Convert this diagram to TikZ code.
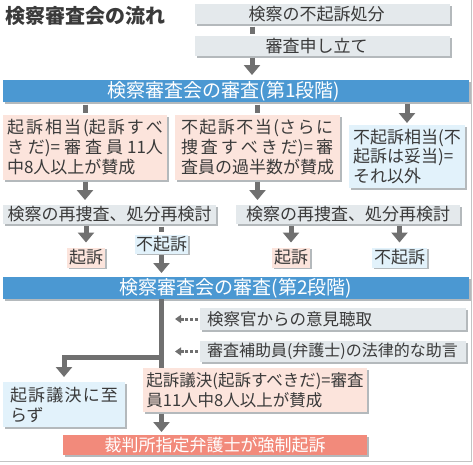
\documentclass[tikz,border=0pt]{standalone}
\usepackage{fontspec}
\setmainfont{Noto Sans CJK JP}
\usetikzlibrary{arrows.meta}
\definecolor{txt}{HTML}{3A3A3A}
\definecolor{boxgray}{HTML}{E4E9EC}
\definecolor{pinkc}{HTML}{FCE4DC}
\definecolor{lblue}{HTML}{E2F2FB}
\definecolor{barblue}{HTML}{4B98D2}
\definecolor{redc}{HTML}{F28A7B}
\definecolor{conncol}{HTML}{707070}
\definecolor{shd}{HTML}{B4B9BC}
\definecolor{framecol}{HTML}{C4C4C4}
\makeatletter
\def\sprd#1#2{\makebox[#1][s]{\sprd@a#2\relax}}
\def\sprd@a#1{#1\futurelet\sprd@next\sprd@b}
\def\sprd@b{\ifx\sprd@next\relax\expandafter\@gobble\else\hfil\expandafter\sprd@a\fi}
\makeatother
\tikzset{
  bx/.style={inner sep=0pt, outer sep=0pt, text=txt, font=\fontsize{17}{20}\selectfont,
    preaction={fill=shd, transform canvas={shift={(1.5pt,-1.5pt)}}}},
  gbx/.style={bx, fill=boxgray},
  pbx/.style={bx, fill=pinkc},
  lbbx/.style={bx, fill=lblue},
  barbx/.style={bx, fill=barblue, text=white, font=\fontsize{19}{22}\selectfont},
  redbx/.style={bx, fill=redc, text=white},
  conn/.style={draw=conncol, line width=5pt},
  arr/.style={conn, -{Triangle[width=16pt,length=10pt]}},
  stub/.style={conn, shorten <=2.5pt, shorten >=2.5pt},
  dotarr/.style={draw=conncol, line width=3pt, dash pattern=on 3pt off 1.6pt,
    -{Triangle[width=8pt,length=6pt]}},
}
\begin{document}
\begin{tikzpicture}[x=1pt,y=-1pt]
\useasboundingbox (0,0) rectangle (473,464);
\fill[white] (0,0) rectangle (473,464);
\draw[framecol, line width=1.2pt] (471.5,0) -- (471.5,461.7) -- (0,461.7);

% title
\node[anchor=west, inner sep=0pt, text=txt, font=\fontsize{20}{22}\selectfont\bfseries] (title) at (5,15.5) {検察審査会の流れ};

% top boxes
\node[gbx, minimum width=255pt, minimum height=20pt,
  label={[text=txt, font=\fontsize{17}{20}\selectfont, xshift=-6pt]center:検察の不起訴処分}] (b1) at (322.5,14) {};
\node[gbx, minimum width=255pt, minimum height=20pt,
  label={[text=txt, font=\fontsize{17}{20}\selectfont, xshift=-6pt]center:審査申し立て}] (b2) at (322.5,46) {};
\coordinate (c252) at (252,0);

% stage 1 bar
\node[barbx, minimum width=466pt, minimum height=22pt,
  label={[text=white, font=\fontsize{19}{22}\selectfont, xshift=-12pt]center:検察審査会の審査(第1段階)}] (bar1) at (236,91) {};

% three outcomes
\node[pbx, minimum width=164pt, minimum height=65pt, align=left] (boxA) at (85,147.5)
  {\sprd{156pt}{起訴相当{(起}訴すべ}\\\sprd{156pt}{き{だ)=}審査員{11人}}\\中8人以上が賛成};
\node[pbx, minimum width=165pt, minimum height=65pt, align=left] (boxB) at (257.5,147.5)
  {\sprd{152pt}{不起訴不当{(さ}らに}\\\sprd{152pt}{捜査すべき{だ)=}審}\\査員の過半数が賛成};
\node[lbbx, minimum width=116pt, minimum height=63pt, align=left, font=\fontsize{17}{19.5}\selectfont] (boxC) at (407,156.5)
  {不起訴相当(不\\起訴は妥当)=\\それ以外};

% reinvestigation
\node[gbx, minimum width=213pt, minimum height=19pt] (boxD) at (109.5,214.5) {検察の再捜査、処分再検討};
\node[gbx, minimum width=224pt, minimum height=19pt] (boxE) at (348,214.5) {検察の再捜査、処分再検討};

% results
\node[pbx, minimum width=38pt, minimum height=20pt] (kA) at (86,257.5) {起訴};
\node[lbbx, minimum width=53pt, minimum height=19pt] (fA) at (161.5,244) {不起訴};
\node[pbx, minimum width=38pt, minimum height=20pt] (kB) at (291,257.5) {起訴};
\node[lbbx, minimum width=55pt, minimum height=20pt] (fB) at (399.5,257.5) {不起訴};

% stage 2 bar
\node[barbx, minimum width=466pt, minimum height=22pt] (bar2) at (236,288) {検察審査会の審査(第2段階)};

% inputs
\node[gbx, inner xsep=7pt, text width=252pt, align=left, minimum height=22pt, font=\fontsize{16.5}{20}\selectfont] (d1) at (333,319) {検察官からの意見聴取};
\node[gbx, inner xsep=7pt, text width=252pt, align=left, minimum height=21pt, font=\fontsize{16}{20}\selectfont] (d2) at (333,351.5) {審査補助員(弁護士)の法律的な助言};
\coordinate (da1) at (175,319);
\coordinate (da2) at (175,351.5);

% final
\node[lbbx, minimum width=122pt, minimum height=45pt, align=left] (boxF) at (64,404.5)
  {\sprd{108pt}{起訴議決に至}\\らず};
\node[pbx, minimum width=224pt, minimum height=44pt, align=left, font=\fontsize{16.5}{20}\selectfont] (boxG) at (255,390)
  {起訴議決(起訴すべきだ)=審査\\員11人中8人以上が賛成};
\node[redbx, minimum width=304pt, minimum height=20pt] (boxH) at (215,445) {裁判所指定弁護士が強制起訴};
\coordinate (br) at (163.5,357);

% connectors
\draw[stub] (b1.south -| c252) -- (b2.north -| c252);
\draw[arr, shorten <=1.5pt, shorten >=5pt] (b2.south -| c252) -- (bar1.north -| c252);
\draw[stub] (bar1.south -| boxA.north) -- (boxA.north);
\draw[stub] (bar1.south -| boxB.north) -- (boxB.north);
\draw[arr, shorten <=1.5pt, shorten >=2pt] (bar1.south -| boxC.north) -- (boxC.north);
\draw[arr, shorten <=1.5pt, shorten >=5pt] (boxA.south) -- (boxD.north -| boxA.south);
\draw[arr, shorten <=1.5pt, shorten >=5pt] (boxB.south) -- (boxE.north -| boxB.south);
\draw[arr, shorten <=1.5pt, shorten >=5pt] (boxD.south -| kA) -- (kA.north);
\draw[stub] (boxD.south -| fA) -- (fA.north);
\draw[arr, shorten <=1.5pt, shorten >=4pt] (fA.south) -- (bar2.north -| fA);
\draw[arr, shorten <=1.5pt, shorten >=5pt] (boxE.south -| kB) -- (kB.north);
\draw[arr, shorten <=1.5pt, shorten >=5pt] (boxE.south -| fB) -- (fB.north);
\draw[conn] (bar2.south -| fA) -- (boxG.north -| fA);
\draw[arr, shorten >=5pt] (br) -| (boxF.north);
\draw[arr, shorten <=1.5pt, shorten >=3pt] (boxG.south -| fA) -- (boxH.north -| fA);
\draw[dotarr, shorten <=2.5pt] (d1.west) -- (da1);
\draw[dotarr, shorten <=2.5pt] (d2.west) -- (da2);
\end{tikzpicture}
\end{document}
